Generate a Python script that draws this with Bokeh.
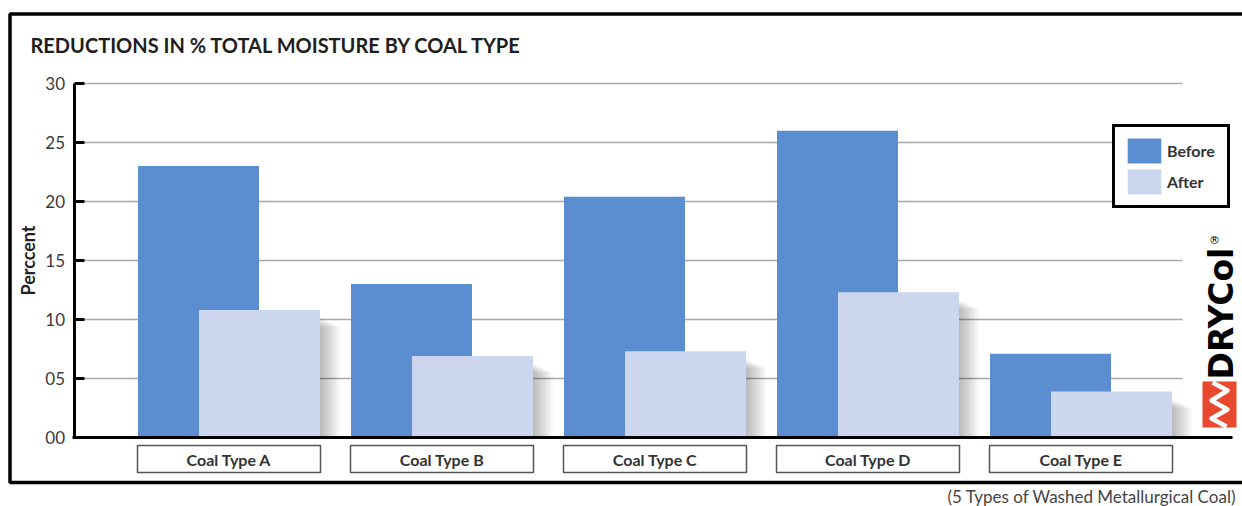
import math

from bokeh.core.properties import value
from bokeh.embed import file_html
from bokeh.models import (BoxAnnotation, FixedTicker, Label, Legend, LegendItem,
                          LinearAxis, Range1d)
from bokeh.plotting import figure
from bokeh.resources import INLINE

# ---- data -------------------------------------------------------------
categories = ["Coal Type A", "Coal Type B", "Coal Type C", "Coal Type D", "Coal Type E"]
before = [23.0, 13.0, 20.4, 26.0, 7.1]
after = [10.8, 6.9, 7.3, 12.3, 3.9]
tick_values = [0, 5, 10, 15, 20, 25, 30]
tick_labels = ["00", "05", "10", "15", "20", "25", "30"]

title_text = "REDUCTIONS IN % TOTAL MOISTURE BY COAL TYPE"
footnote_text = "(5 Types of Washed Metallurgical Coal)"

BEFORE_COLOR = "#5b8ed0"
AFTER_COLOR = "#ccd6ef"
FONT = "Lato"

# ---- page geometry ----------------------------------------------------
W, H = 1242, 506
GROUP_PX = 213.0   # pixels per coal type
FIRST_PX = 228.5   # centre of the first coal type
UNIT_PX = 11.8     # pixels per percent
ZERO_PX = 437.0    # pixel row of the zero line

x_start = -FIRST_PX / GROUP_PX
x_end = (W - FIRST_PX) / GROUP_PX
y_start = -(H - ZERO_PX) / UNIT_PX
y_end = ZERO_PX / UNIT_PX


def gx(px):
    """page column -> x data value"""
    return (px - FIRST_PX) / GROUP_PX


def gy(py):
    """page row -> y data value"""
    return (ZERO_PX - py) / UNIT_PX


bar_w = 121 / GROUP_PX
dodge = 30.5 / GROUP_PX
xs = list(range(len(categories)))
x_before = [x - dodge for x in xs]
x_after = [x + dodge for x in xs]

p = figure(width=W, height=H, output_backend="svg", toolbar_location=None,
           x_range=Range1d(x_start, x_end), y_range=Range1d(y_start, y_end),
           x_axis_location=None, y_axis_location=None,
           min_border_left=0, min_border_right=0, min_border_top=0, min_border_bottom=0)
p.outline_line_color = None
p.background_fill_color = "white"
p.border_fill_color = "white"
p.grid.visible = False

# ---- y axis, pinned inside the frame ----------------------------------
ax = LinearAxis(fixed_location=gx(73.5))
ax.ticker = FixedTicker(ticks=tick_values)
ax.bounds = (0, 30)
ax.major_label_overrides = dict(zip(tick_values, tick_labels))
ax.axis_line_width = 3
ax.axis_line_color = "black"
ax.major_tick_in = 10
ax.major_tick_out = 0
ax.major_tick_line_width = 3
ax.major_tick_line_color = "black"
ax.minor_tick_line_color = None
ax.major_label_standoff = 9
ax.major_label_text_font = FONT
ax.major_label_text_font_size = "17px"
ax.major_label_text_color = "#3a3a3a"
ax.axis_label = "Perccent"
ax.axis_label_standoff = 4
ax.axis_label_text_font = FONT
ax.axis_label_text_font_style = "bold"
ax.axis_label_text_font_size = "18px"
ax.axis_label_text_color = "#222222"
p.add_layout(ax, "left")

# grid lines at the tick values
p.segment(x0=[gx(83)] * len(tick_values[1:]), x1=[gx(1182)] * len(tick_values[1:]),
          y0=tick_values[1:], y1=tick_values[1:], line_color="#a8a8a8", line_width=1.4)

# ---- bars -------------------------------------------------------------
r_before = p.vbar(x=x_before, width=bar_w, top=before, bottom=0,
                  fill_color=BEFORE_COLOR, line_color=None)

# soft drop shadow to the right of the "after" bars
for k in range(1, 11):
    p.vbar(x=[x + k * 2.0 / GROUP_PX for x in x_after], width=bar_w,
           top=[a - 0.6 - 0.08 * k for a in after], bottom=0,
           fill_color="black", fill_alpha=0.026, line_color=None)

r_after = p.vbar(x=x_after, width=bar_w, top=after, bottom=0,
                 fill_color=AFTER_COLOR, line_color=None)

# zero line
p.segment(x0=[gx(72)], x1=[gx(1232)], y0=[0], y1=[0], line_color="black", line_width=3)

# category label boxes
p.rect(x=xs, y=[gy(458.5)] * len(xs), width=183 / GROUP_PX, height=27 / UNIT_PX,
       fill_color="white", line_color="#555555", line_width=1.5)
p.text(x=xs, y=[gy(459)] * len(xs), text=categories, text_align="center",
       text_baseline="middle", text_font=value(FONT), text_font_style="bold",
       text_font_size="16px", text_color="#333333")

# ---- legend -----------------------------------------------------------
legend = Legend(items=[LegendItem(label="Before", renderers=[r_before]),
                       LegendItem(label="After", renderers=[r_after])],
                location=(1112, H - 208), orientation="vertical",
                border_line_color="black", border_line_width=3, border_line_alpha=1,
                background_fill_color="white", background_fill_alpha=1,
                padding=8, margin=0, spacing=0,
                glyph_width=42, glyph_height=31, label_height=31,
                label_standoff=2, label_width=52,
                label_text_font=FONT, label_text_font_style="bold",
                label_text_font_size="16px", label_text_color="#333333")
p.add_layout(legend, "center")

# ---- brand mark -------------------------------------------------------
p.add_layout(Label(x=gx(1221), y=gy(379), text="DRYCol", angle=math.pi / 2,
                   text_align="left", text_baseline="middle",
                   text_font="DejaVu Sans", text_font_style="bold",
                   text_font_size="33px", text_color="black"))
p.add_layout(Label(x=gx(1214), y=gy(240), text="®", text_align="center",
                   text_baseline="middle", text_font="DejaVu Sans",
                   text_font_size="11px", text_color="black"))
p.quad(left=[gx(1202)], right=[gx(1236)], top=[gy(381)], bottom=[gy(427)],
       fill_color="#e8482e", line_color=None)
p.line(x=[gx(1212), gx(1227), gx(1211), gx(1227), gx(1211), gx(1226)],
       y=[gy(382), gy(390), gy(400), gy(409), gy(418), gy(426)],
       line_color="white", line_width=4.5, line_join="round")

# ---- frame, title, footnote ------------------------------------------
p.add_layout(BoxAnnotation(left=gx(9.5), right=gx(1260), top=gy(13.5), bottom=gy(482),
                           fill_color=None, fill_alpha=0, line_color="black",
                           line_alpha=1, line_width=3.5))
p.add_layout(Label(x=gx(30), y=gy(44), text=title_text, text_align="left",
                   text_baseline="middle", text_font=FONT, text_font_style="bold",
                   text_font_size="20px", text_color="#1e1e1e"))
p.add_layout(Label(x=gx(1236), y=gy(496), text=footnote_text, text_align="right",
                   text_baseline="middle", text_font=FONT,
                   text_font_size="17px", text_color="#444444"))

open("out.html", "w").write(file_html(p, INLINE))
